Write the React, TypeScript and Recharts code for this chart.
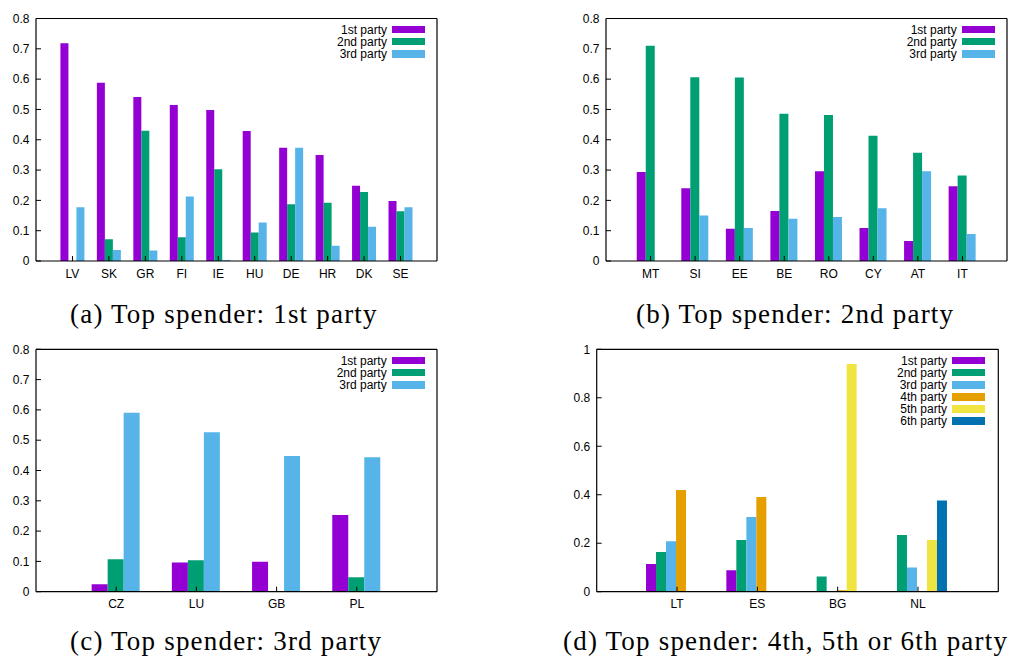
import React from 'react';
import { BarChart, Bar, XAxis, YAxis, Legend } from 'recharts';

const PARTY_NAMES = ['1st party', '2nd party', '3rd party', '4th party', '5th party', '6th party'];
const PARTY_COLORS = ['#9400d3', '#009e73', '#56b4e9', '#e69f00', '#f0e442', '#0072b2'];

const TICKS_08 = [0, 0.1, 0.2, 0.3, 0.4, 0.5, 0.6, 0.7, 0.8];
const TICKS_1 = [0, 0.2, 0.4, 0.6, 0.8, 1];

// (a) top spender: 1st party
const A_CATS = ['LV', 'SK', 'GR', 'FI', 'IE', 'HU', 'DE', 'HR', 'DK', 'SE'];
const A_P1 = [0.718, 0.588, 0.541, 0.515, 0.498, 0.429, 0.374, 0.35, 0.248, 0.198];
const A_P2 = [0, 0.072, 0.43, 0.078, 0.303, 0.094, 0.187, 0.192, 0.228, 0.164];
const A_P3 = [0.177, 0.036, 0.035, 0.213, 0.003, 0.127, 0.374, 0.05, 0.113, 0.177];

// (b) top spender: 2nd party
const B_CATS = ['MT', 'SI', 'EE', 'BE', 'RO', 'CY', 'AT', 'IT'];
const B_P1 = [0.294, 0.24, 0.106, 0.165, 0.296, 0.109, 0.066, 0.247];
const B_P2 = [0.71, 0.606, 0.605, 0.486, 0.482, 0.413, 0.357, 0.282];
const B_P3 = [0, 0.15, 0.109, 0.139, 0.145, 0.174, 0.296, 0.089];

// (c) top spender: 3rd party
const C_CATS = ['CZ', 'LU', 'GB', 'PL'];
const C_P1 = [0.025, 0.096, 0.099, 0.253];
const C_P2 = [0.107, 0.104, 0.002, 0.048];
const C_P3 = [0.591, 0.526, 0.448, 0.444];

// (d) top spender: 4th, 5th or 6th party
const D_CATS = ['LT', 'ES', 'BG', 'NL'];
const D_P1 = [0.114, 0.089, 0, 0];
const D_P2 = [0.164, 0.213, 0.063, 0.234];
const D_P3 = [0.208, 0.308, 0, 0.1];
const D_P4 = [0.42, 0.391, 0.006, 0.003];
const D_P5 = [0, 0, 0.939, 0.213];
const D_P6 = [0, 0, 0, 0.376];

const FONT = '"Liberation Sans", Arial, Helvetica, sans-serif';
const AXIS_LINE = { stroke: '#000', strokeWidth: 1.2 };
const TICK_LINE = { stroke: '#000', strokeWidth: 1 };
const TICK_TEXT = { fill: '#000', fontSize: 12, fontFamily: FONT };

// plot box edges inside each panel
type Box = { top: number; right: number; bottom: number; left: number };

interface PanelProps {
  left: number;
  top: number;
  width: number;
  height: number;
  box: Box;
  cats: string[];
  series: number[][];
  yMax: number;
  yTicks: number[];
  gap: string;
  legendTop: number;
  legendRight: number;
}

function LegendBox({ count }: { count: number }) {
  return (
    <div style={{ fontFamily: FONT, fontSize: 12, color: '#000' }}>
      {PARTY_NAMES.slice(0, count).map((name, i) => (
        <div key={name} style={{ display: 'flex', justifyContent: 'flex-end', alignItems: 'center', height: 12.1, lineHeight: '12.1px' }}>
          <span style={{ whiteSpace: 'nowrap' }}>{name}</span>
          <span style={{ display: 'inline-block', width: 33, height: 7.5, marginLeft: 5, background: PARTY_COLORS[i] }} />
        </div>
      ))}
    </div>
  );
}

function Panel(p: PanelProps) {
  const data = p.cats.map((c, i) => {
    const row: Record<string, string | number> = { cat: c };
    p.series.forEach((s, k) => { row['s' + k] = s[i]; });
    return row;
  });
  const plotW = p.box.right - p.box.left;
  const pad = plotW / (2 * (p.cats.length + 1));
  const margin = { top: p.box.top - 1, right: p.width - p.box.right - 1, bottom: 0, left: 0 };

  return (
    <div style={{ position: 'absolute', left: p.left, top: p.top }}>
      <BarChart width={p.width} height={p.height} data={data} margin={margin} barGap={0} barCategoryGap={p.gap}>
        <XAxis xAxisId="b" dataKey="cat" height={p.height - p.box.bottom} padding={{ left: pad, right: pad }} interval={0}
          axisLine={AXIS_LINE} tickLine={TICK_LINE} tickSize={-5} tickMargin={13} tick={TICK_TEXT} />
        <XAxis xAxisId="t" dataKey="cat" orientation="top" height={1} padding={{ left: pad, right: pad }} interval={0}
          axisLine={AXIS_LINE} tickLine={TICK_LINE} tickSize={-5} tick={false} />
        <YAxis yAxisId="l" type="number" width={p.box.left} domain={[0, p.yMax]} ticks={p.yTicks} interval={0} allowDataOverflow
          axisLine={AXIS_LINE} tickLine={TICK_LINE} tickSize={-5} tickMargin={11.5} tick={TICK_TEXT} />
        <YAxis yAxisId="r" type="number" orientation="right" width={1} domain={[0, p.yMax]} ticks={p.yTicks} interval={0} allowDataOverflow
          axisLine={AXIS_LINE} tickLine={TICK_LINE} tickSize={-5} tick={false} />
        <Legend layout="vertical" align="center" verticalAlign="middle"
          wrapperStyle={{ top: p.legendTop, right: p.legendRight, left: 'auto', width: 'auto' }}
          content={() => <LegendBox count={p.series.length} />} />
        {p.series.map((_, k) => (
          <Bar key={k} dataKey={'s' + k} name={PARTY_NAMES[k]} xAxisId="b" yAxisId="l" fill={PARTY_COLORS[k]} isAnimationActive={false} />
        ))}
      </BarChart>
    </div>
  );
}

const CAPTION_STYLE: React.CSSProperties = {
  position: 'absolute',
  fontFamily: '"Liberation Serif", "Times New Roman", serif',
  fontSize: 27,
  lineHeight: '27px',
  letterSpacing: 1.2,
  whiteSpace: 'nowrap',
  color: '#000',
};

export default function App() {
  return (
    <div style={{ position: 'absolute', left: 0, top: 0, width: 1010, height: 659, background: '#fff', overflow: 'hidden' }}>
      <Panel left={0} top={0} width={460} height={290} box={{ top: 18.5, right: 437, bottom: 261, left: 36 }}
        cats={A_CATS} series={[A_P1, A_P2, A_P3]} yMax={0.8} yTicks={TICKS_08} gap="17%" legendTop={23.6} legendRight={35} />
      <Panel left={500} top={0} width={510} height={290} box={{ top: 18.5, right: 507, bottom: 261, left: 106 }}
        cats={B_CATS} series={[B_P1, B_P2, B_P3]} yMax={0.8} yTicks={TICKS_08} gap="19%" legendTop={23.6} legendRight={15.3} />
      <Panel left={0} top={335} width={460} height={280} box={{ top: 14.3, right: 437, bottom: 256.7, left: 36 }}
        cats={C_CATS} series={[C_P1, C_P2, C_P3]} yMax={0.8} yTicks={TICKS_08} gap="19.4%" legendTop={19.6} legendRight={35.3} />
      <Panel left={500} top={335} width={510} height={280} box={{ top: 14.3, right: 498.3, bottom: 256.7, left: 96.7 }}
        cats={D_CATS} series={[D_P1, D_P2, D_P3, D_P4, D_P5, D_P6]} yMax={1} yTicks={TICKS_1} gap="11.4%" legendTop={19.6} legendRight={25} />

      <div style={{ ...CAPTION_STYLE, left: 70, top: 301.4 }}>(a) Top spender: 1st party</div>
      <div style={{ ...CAPTION_STYLE, left: 636, top: 301.4 }}>(b) Top spender: 2nd party</div>
      <div style={{ ...CAPTION_STYLE, left: 70, top: 628.4 }}>(c) Top spender: 3rd party</div>
      <div style={{ ...CAPTION_STYLE, left: 563, top: 628.4 }}>(d) Top spender: 4th, 5th or 6th party</div>
    </div>
  );
}
